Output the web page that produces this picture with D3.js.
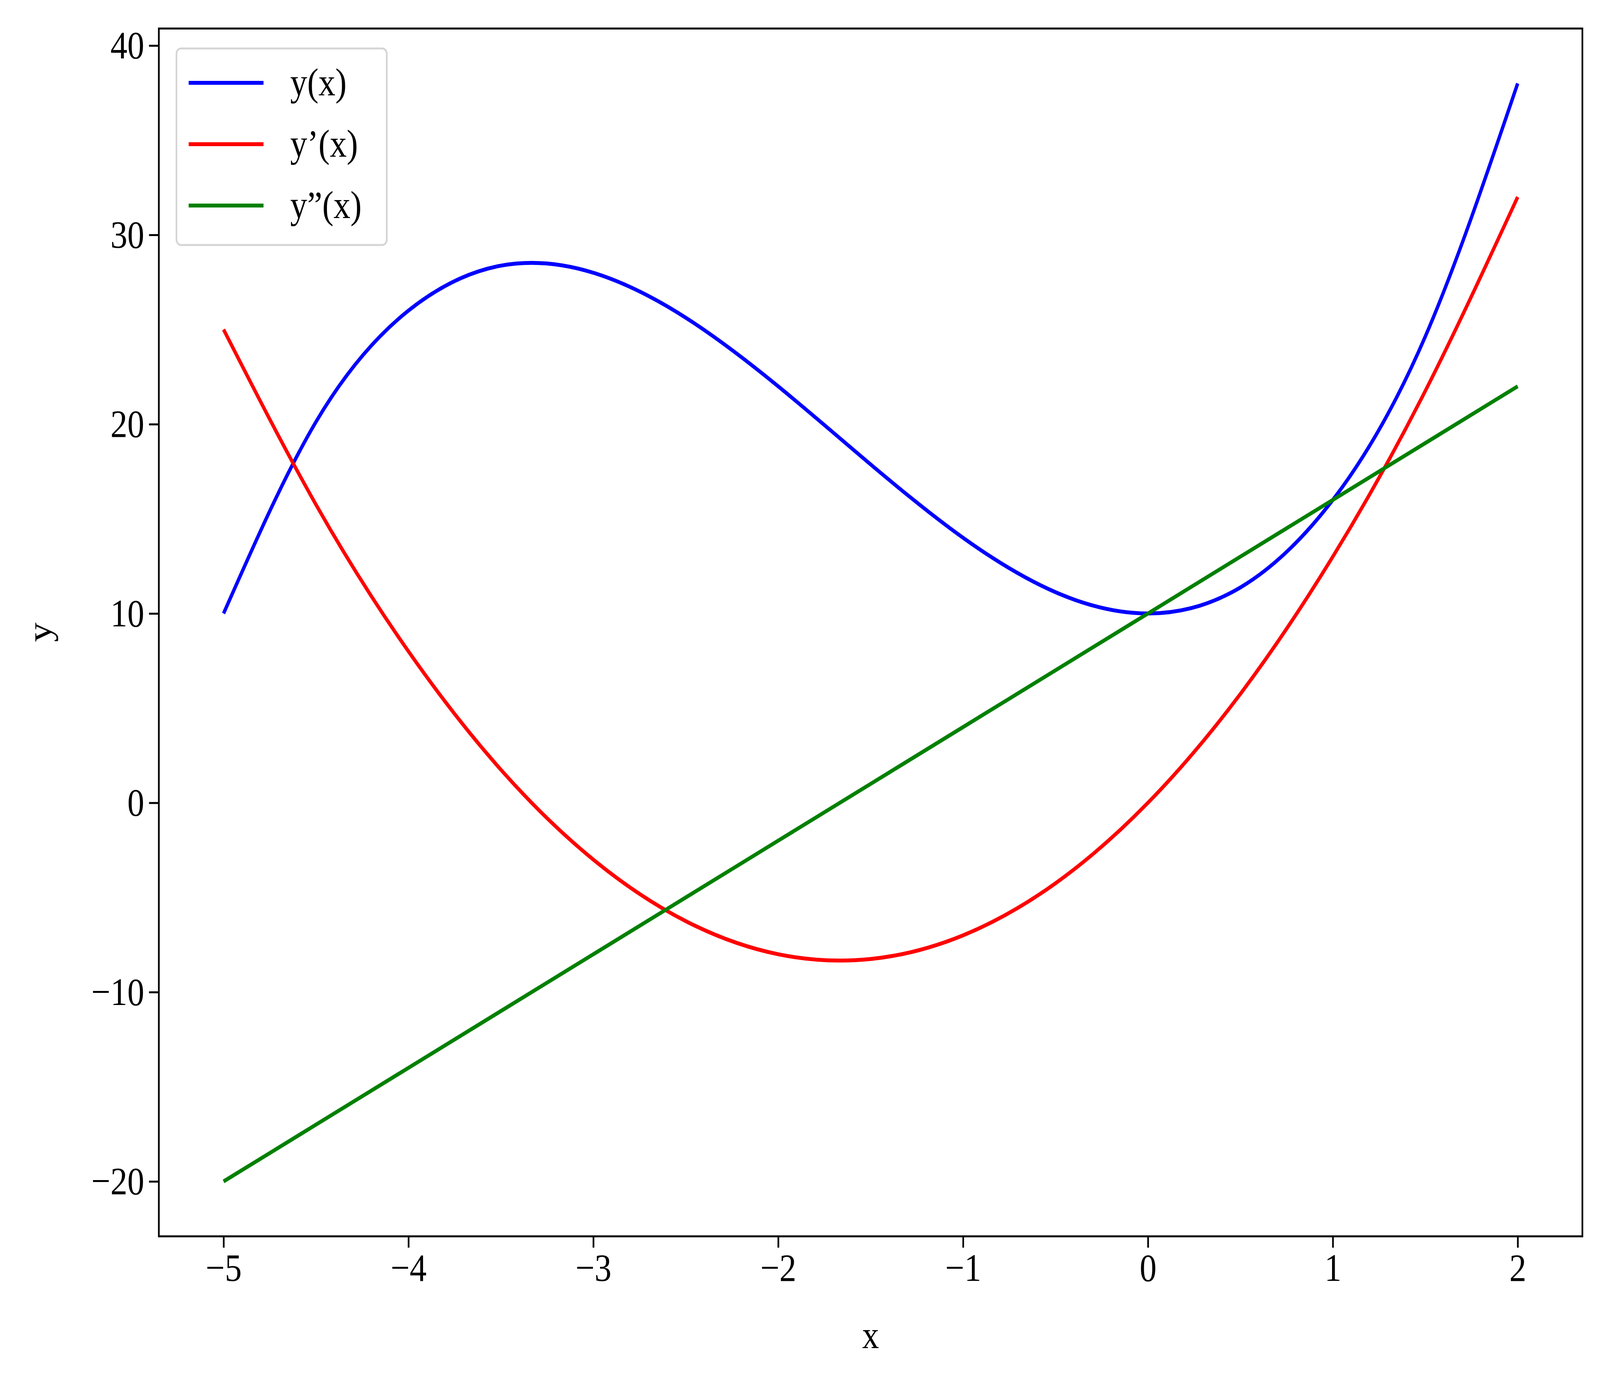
<!DOCTYPE html>
<html><head><meta charset="utf-8">
<script src="https://cdn.jsdelivr.net/npm/d3@7"></script>
<style>html,body{margin:0;padding:0;background:#fff;overflow:hidden}#c{display:block;width:100vw;height:100vh}svg text{font-family:"Liberation Serif","DejaVu Serif",serif}</style>
</head><body><svg id="c" viewBox="0 0 4724 3524" preserveAspectRatio="none"></svg>
<script>
const xs=[-5,-4.5,-4,-3.5,-3,-2.5,-2,-1.5,-1,-0.5,0,0.5,1,1.5,2];
const yVals=[10,20.125,26,28.375,28,25.625,22,17.875,14,11.125,10,11.375,16,24.625,38];
const y1Vals=[25,15.75,8,1.75,-3,-6.25,-8,-8.25,-7,-4.25,0,5.75,13,21.75,32];
const y2Vals=[-20,-17,-14,-11,-8,-5,-2,1,4,7,10,13,16,19,22];
const seriesNames=["y(x)","y\u2019(x)","y\u201d(x)"];
const colors=["#0000ff","#ff0000","#008000"];
const xTicks=[-5,-4,-3,-2,-1,0,1,2];
const yTicks=[-20,-10,0,10,20,30,40];

const L=469,R=4672,T=73,B=3164,FS=100;
const svg=d3.select("#c");
const x=d3.scaleLinear().domain([-5.35,2.35]).range([L,R]);
const y=d3.scaleLinear().domain([-22.9,40.9]).range([B,T]);
const fmt=d=>d<0?"\u2212"+Math.abs(d):String(d);
const gx=svg.append("g").attr("transform",`translate(0,${B})`).call(d3.axisBottom(x).tickValues(xTicks).tickFormat(fmt).tickSize(29).tickPadding(14));
const gy=svg.append("g").attr("transform",`translate(${L},0)`).call(d3.axisLeft(y).tickValues(yTicks).tickFormat(fmt).tickSize(29).tickPadding(14));
[gx,gy].forEach(g=>{g.select(".domain").remove();g.selectAll("line").attr("stroke","#000").attr("stroke-width",5);g.selectAll("text").attr("font-size",FS).attr("fill","#000").attr("font-family","Liberation Serif, serif");});
const all=[yVals,y1Vals,y2Vals];
const line=d3.line().x((d,i)=>x(xs[i])).y(d=>y(d)).curve(d3.curveNatural);
all.forEach((s,k)=>svg.append("path").datum(s).attr("d",line).attr("fill","none").attr("stroke",colors[k]).attr("stroke-width",10));
svg.append("rect").attr("x",L).attr("y",T).attr("width",R-L).attr("height",B-T).attr("fill","none").attr("stroke","#000").attr("stroke-width",5);
svg.append("text").attr("x",(L+R)/2).attr("y",3450).attr("text-anchor","middle").attr("font-size",FS).text("x");
svg.append("text").attr("transform","translate(150,1618) rotate(-90)").attr("text-anchor","middle").attr("font-size",FS).text("y");
const lg=svg.append("g");
lg.append("rect").attr("x",521).attr("y",124).attr("width",621).attr("height",503).attr("rx",14).attr("fill","#fff").attr("fill-opacity",0.8).attr("stroke","#d5d5d5").attr("stroke-width",5);
seriesNames.forEach((n,k)=>{const yy=212+k*157;
lg.append("line").attr("x1",557).attr("x2",778).attr("y1",yy).attr("y2",yy).attr("stroke",colors[k]).attr("stroke-width",10);
lg.append("text").attr("x",857).attr("y",yy+32).attr("font-size",FS).text(n);});
</script></body></html>
